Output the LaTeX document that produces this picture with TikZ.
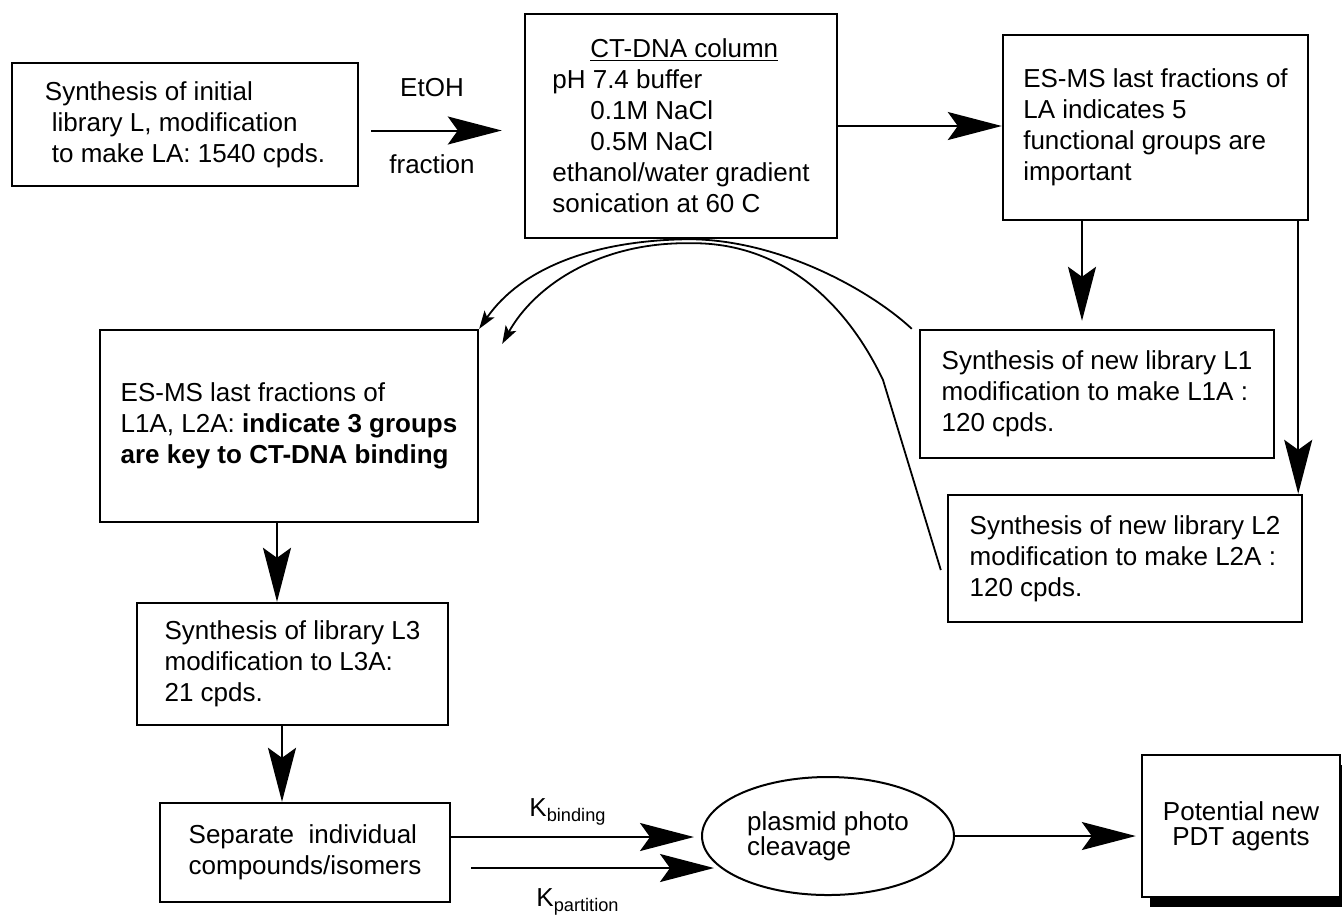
\documentclass[tikz,border=0pt]{standalone}
\usepackage{fontspec}
\setmainfont{Liberation Sans}
\usetikzlibrary{arrows.meta,shapes.geometric,shadows}

\begin{document}
\begin{tikzpicture}[x=0.5pt,y=-0.5pt,
    box/.style={draw,line width=1.2pt,align=left,inner sep=0pt,font=\fontsize{13}{15.5}\selectfont},
    big/.style={line width=1pt,-{Stealth[length=27pt,width=14pt,inset=5pt]}},
    small/.style={line width=0.9pt,-{Stealth[length=9pt,width=6pt,inset=2pt]}},
    lbl/.style={inner sep=0pt,font=\fontsize{13}{15.5}\selectfont}]
\useasboundingbox (0,0) rectangle (1342,918);

% boxes
\node[box,minimum width=173pt,minimum height=61.5pt] (syn) at (185,124.5)
    {Synthesis of initial\\\hspace*{3.5pt}library L, modification\\\hspace*{3.5pt}to make LA: 1540 cpds.};
\node[box,minimum width=156pt,minimum height=112pt] (col) at (681,126)
    {\hspace*{19pt}\underline{CT-DNA column}\\pH 7.4 buffer\\\hspace*{19pt}0.1M NaCl\\\hspace*{19pt}0.5M NaCl\\ethanol/water gradient\\sonication at 60 C};
\node[box,minimum width=152.5pt,minimum height=92.5pt] (esmsA) at (1155.5,127.5)
    {ES-MS last fractions of\\LA indicates 5\\functional groups are\\important};
\node[box,minimum width=177pt,minimum height=64pt] (libA) at (1097,394)
    {Synthesis of new library L1\\modification to make L1A :\\120 cpds.};
\node[box,minimum width=177pt,minimum height=63.5pt] (libB) at (1125,558.5)
    {Synthesis of new library L2\\modification to make L2A :\\120 cpds.};
\node[box,minimum width=189pt,minimum height=96pt] (esmsB) at (289,426)
    {ES-MS last fractions of\\L1A, L2A: \textbf{indicate 3 groups}\\\textbf{are key to CT-DNA binding}};
\node[box,minimum width=155.5pt,minimum height=61pt] (libC) at (292.5,664)
    {Synthesis of library L3\\modification to L3A:\\21 cpds.};
\node[box,minimum width=145pt,minimum height=49.5pt] (sep) at (305,852.5)
    {Separate\ \ individual\\compounds/isomers};
\node[box,ellipse,line width=1pt,minimum width=126pt,minimum height=59pt,
    font=\fontsize{13}{12.5}\selectfont] (plas) at (828,836)
    {plasmid photo\\cleavage};
\node[box,align=center,fill=white,minimum width=99pt,minimum height=71pt,
    font=\fontsize{13}{12.5}\selectfont,
    drop shadow={shadow xshift=4pt,shadow yshift=-5pt,fill=black,opacity=1}] (pdt) at (1241,826)
    {Potential new\\PDT agents};

% labels
\node[lbl] (etoh) at (432,88) {EtOH};
\node[lbl] (frac) at (432,164) {fraction};
\node[lbl] (kb) at (568,812) {K\textsubscript{binding}};
\node[lbl] (kp) at (578,902) {K\textsubscript{partition}};

\coordinate (kink) at (883,380);

% straight arrows
\draw[big,shorten <=6pt,shorten >=11pt] ([yshift=-3pt]syn.east) -- ([yshift=-3pt]syn.east -| col.west);
\draw[big] (col.east) -- (col.east -| esmsA.west);
\draw[big,shorten >=4pt] ([xshift=-36.75pt]esmsA.south) -- ([xshift=-36.75pt]esmsA.south |- libA.north);
\draw[big] ([xshift=-5.5pt]esmsA.south east) -- ([xshift=-5.5pt]esmsA.south east |- libB.north);
\draw[big] ([xshift=-6pt]esmsB.south) -- ([xshift=-6pt]esmsB.south |- libC.north);
\draw[big] ([xshift=-5.25pt]libC.south) -- ([xshift=-5.25pt]libC.south |- sep.north);
\draw[big,shorten >=3.5pt] ([yshift=7.75pt]sep.east) -- ([yshift=7.75pt]sep.east -| plas.west);
\draw[big,shorten >=3.5pt] ([shift={(10pt,-7.75pt)}]sep.east) -- ([shift={(10pt,-7.75pt)}]sep.east -| plas.west);
\draw[big,shorten >=2.5pt] (plas.east) -- (plas.east -| pdt.west);

% curved arrows under the column
\draw[small] ([xshift=-3.5pt]libA.north west) .. controls (870,290) and (780,240) .. ([xshift=4.5pt]col.south)
    .. controls (590,240) and (520,270) .. (esmsB.north east);
\draw[small] ([shift={(-3pt,-5.75pt)}]libB.west) -- (kink) .. controls (845,300) and (780,242) .. ([shift={(4.5pt,-2pt)}]col.south)
    .. controls (600,242) and (535,285) .. ([shift={(11.5pt,-7.5pt)}]esmsB.north east);
\end{tikzpicture}
\end{document}
